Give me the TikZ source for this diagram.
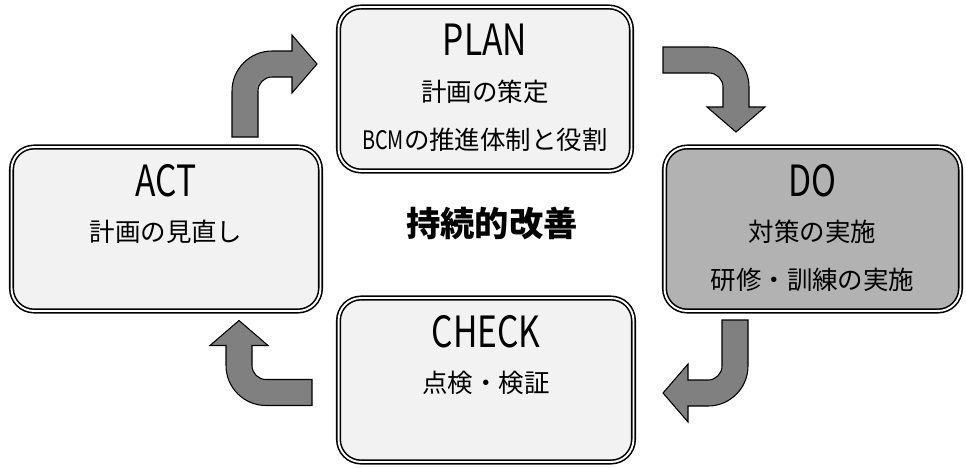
\documentclass[tikz,border=0pt]{standalone}
\usepackage{fontspec}
\setmainfont{Noto Sans CJK JP}
\newfontfamily\titlefont[FakeStretch=0.78]{Noto Sans CJK JP}

\definecolor{boxgray}{HTML}{F2F2F2}
\definecolor{dogray}{HTML}{B2B2B2}
\definecolor{arrowgray}{HTML}{808080}

\tikzset{
    phase/.style={draw, line width=0.9pt, double=white, double distance=1.1pt,
        rounded corners=0.45cm, fill=boxgray, minimum height=3.28cm, inner sep=0pt},
    phasetitle/.style={font=\titlefont\fontsize{24.5}{28}\selectfont, inner sep=0pt},
    phaseline/.style={font=\fontsize{14.5}{17}\selectfont, inner sep=0pt},
    arrowbody/.style={draw, line width=0.6pt, fill=arrowgray},
    turnarrow/.pic={
        \draw[arrowbody] (-13,0) -- (-13,46) arc[start angle=180, end angle=90, radius=40]
            -- (47,86) -- (47,102) -- (72,73) -- (47,44) -- (47,60) -- (27,60)
            arc[start angle=90, end angle=180, radius=14] -- (13,0) -- cycle;
    }
}

\begin{document}
\begin{tikzpicture}[x=0.02cm, y=0.02cm]
    \useasboundingbox (0,0) rectangle (966,-467);

    % the four phases
    \node[phase, minimum width=5.86cm] (plan) at (485,-89) {};
    \node[phase, minimum width=5.92cm, fill=dogray] (do) at (812.5,-229) {};
    \node[phase, minimum width=5.90cm] (check) at (486,-380) {};
    \node[phase, minimum width=6.18cm] (act) at (166,-229) {};

    \node[phasetitle] (plant) at ([yshift=-0.68cm]plan.north) {PLAN};
    \node[phaseline] (plan1) at ([yshift=-1.72cm]plan.north) {計画の策定};
    \node[phaseline] (plan2) at ([yshift=-2.68cm]plan.north) {{\titlefont BCM}の推進体制と役割};

    \node[phasetitle] (dot) at ([yshift=-0.68cm]do.north) {DO};
    \node[phaseline] (do1) at ([yshift=-1.72cm]do.north) {対策の実施};
    \node[phaseline] (do2) at ([yshift=-2.68cm]do.north) {研修・訓練の実施};

    \node[phasetitle] (checkt) at ([yshift=-0.68cm]check.north) {CHECK};
    \node[phaseline] (check1) at ([yshift=-1.72cm]check.north) {点検・検証};

    \node[phasetitle] (actt) at ([yshift=-0.68cm]act.north) {ACT};
    \node[phaseline] (act1) at ([yshift=-1.72cm]act.north) {計画の見直し};

    \node[font=\bfseries\fontsize{19.5}{22}\selectfont] (kaizen) at (492,-224) {持続的改善};

    % turning arrows between the phases
    \pic at (245,-137) {turnarrow};
    \pic[rotate=-90] at (663,-60) {turnarrow};
    \pic[rotate=180] at (735,-320) {turnarrow};
    \pic[rotate=90] at (312,-392.5) {turnarrow};
\end{tikzpicture}
\end{document}
